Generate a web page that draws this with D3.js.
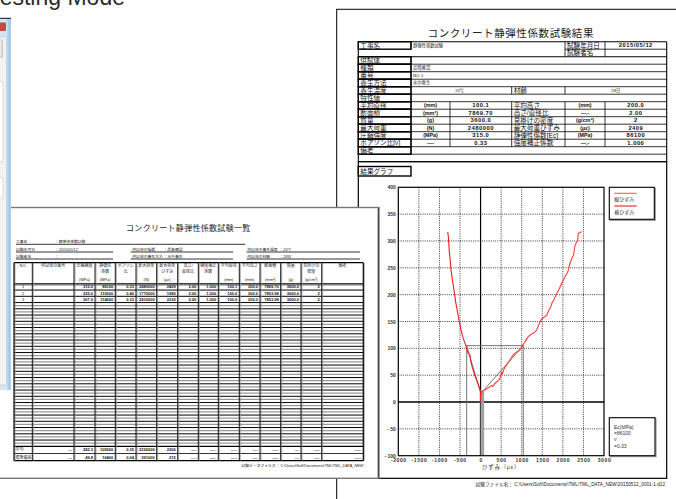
<!DOCTYPE html>
<html><head><meta charset="utf-8">
<script src="https://cdn.jsdelivr.net/npm/d3@7"></script>
<style>
html,body{margin:0;padding:0;background:#fff;overflow:hidden}
svg{display:block}
text{font-family:"Liberation Sans","Noto Sans CJK JP",sans-serif}
</style></head><body>
<svg id="c" width="676" height="499"></svg>
<script>
// ---------- chart data ----------
const xTicks=[-2000,-1500,-1000,-500,0,500,1000,1500,2000,2500,3000];
const yTicks=[-100,-50,0,50,100,150,200,250,300,350,400];
const seriesNames=["縦ひずみ","横ひずみ"];
// axial (縦) strain curve
const axialStrain=[0,0,20,90,180,270,300,340,430,470,513,530,560,640,715,690,760,820,877,930,980,1023,1060,1120,1100,1160,1242,1300,1364,1420,1485,1520,1606,1650,1700,1728,1780,1850,1880,1930,1990,2052,2100,2132,2150,2213,2254,2270,2295,2330,2360,2375,2420,2457];
const axialStress=[0,12,19,22,26,31,29,34,40,44,56,52,60,70,78,75,84,90,93,95,100,106,110,118,114,122,127,129,134,145,155,157,161,170,176,183,190,202,206,214,224,233,240,245,252,267,273,278,292,297,301,314,316,317];
// lateral (横) strain curve
const lateralStrain=[0,0,-40,-95,-150,-202,-240,-258,-290,-314,-340,-362,-390,-420,-476,-500,-525,-560,-605,-630,-663,-690,-720,-735,-760,-785,-800];
const lateralStress=[0,19,30,40,52,65,76,87,90,93,100,106,112,118,134,145,152,168,186,200,217,230,247,262,280,310,317];
// secant modulus construction
const ecMPa=86100, poissonText="0.33";
const baseStrain=50, baseStress=20, upperStress=105, lateralUpperStrain=-338;

// ---------- result sheet data ----------
const sheetTitle="コンクリート静弾性係数試験結果";
const infoLabels=["供試体","種類","番号","養生方法"];
const infoValues=["","品質確認","NO-1","水中養生"];
const statLabels=["平均直径","断面積","質量","最大荷重","圧縮強度","ポアソン比[ν]"];
const statUnits=["(mm)","(mm²)","(g)","(N)","(MPa)","----"];
const statValues=["100.1","7869.70","3600.0","2480000","315.0","0.33"];
const statLabels2=["平均高さ","高さ/直径比","見掛けの密度","最大荷重ひずみ","静弾性係数[Ec]","強度補正係数"];
const statUnits2=["(mm)","―.-","(g/cm³)","(με)","(MPa)","―.-"];
const statValues2=["200.0","2.00","2","2409","86100","1.000"];

// ---------- list sheet data ----------
const listTitle="コンクリート静弾性係数試験一覧";
const listHeader=[["NO.","",""],["供試体の番号","",""],["圧縮強度","","(MPa)"],["静弾性","係数","(MPa)"],["ポアソン","比",""],["最大荷重","","(N)"],["最大荷重","ひずみ","(με)"],["高さ/","直径比",""],["強度補正","係数",""],["平均直径","","(mm)"],["平均高さ","","(mm)"],["断面積","","(mm²)"],["質量","","(g)"],["見掛けの","密度","(g/cm³)"],["備考","",""]];
const listRow1=["1","","315.0","86100","0.33","2480000","2409","2.00","1.000","100.1","200.0","7869.70","3600.0","2",""];
const listRow2=["2","","225.0","115000","0.40","1770000","1980","2.00","1.000","100.0","200.0","7853.98","3600.0","2",""];
const listRow3=["3","","307.0","114000","0.33","2410000","2230","2.00","1.000","100.0","200.0","7853.98","3600.0","2",""];
const listMean=["平均","---","282.3","105000","0.35","2220000","2206","----","―.-","―.-","----","―.-","---","----","―.-"];
const listStd=["標準偏差","---","49.8","16400","0.04","391000","215","----","―.-","―.-","----","―.-","---","----","―.-"];

const svg=d3.select("#c");
function T(sel,x,y,s,o={}){
  return sel.append("text").attr("x",x).attr("y",y).attr("dy","0.35em")
    .attr("font-size",o.size||6).attr("text-anchor",o.anchor||"start")
    .attr("fill",o.fill||"#111").attr("font-weight",o.weight||"normal")
    .attr("letter-spacing",o.ls||0).attr("font-family",o.family||null).text(s);
}
function L(sel,x1,y1,x2,y2,w,col,dash){
  return sel.append("line").attr("x1",x1).attr("y1",y1).attr("x2",x2).attr("y2",y2)
    .attr("stroke",col||"#000").attr("stroke-width",w||0.8).attr("stroke-dasharray",dash||null);
}
function R(sel,x0,y0,x1,y1,w,col,fill){
  return sel.append("rect").attr("x",x0).attr("y",y0).attr("width",x1-x0).attr("height",y1-y0)
    .attr("fill",fill||"none").attr("stroke",col||"#000").attr("stroke-width",w||0.8);
}

// ---------- heading ----------
svg.append("text").attr("x",125).attr("y",4.5).attr("text-anchor","end")
  .attr("font-family","'Open Sans',sans-serif").attr("font-size",23).attr("fill","#2b2b2b").text("Testing Mode");

// ---------- result sheet ----------
const right=svg.append("g");
R(right,336.7,9.3,700,520,1,"#000","#fff");
T(right,510.8,33.3,sheetTitle,{size:10.5,anchor:"middle",fill:"#222",ls:0.6,family:"'Noto Sans CJK JP',sans-serif"});

const c=[358.3,411,450,511.7,565,605,666.7];
const ry=i=>41.7+i*7.5;
const lab={size:6.6,fill:"#111"};
const small={size:4.3,fill:"#222"};
const num={size:5.8,weight:"bold",fill:"#111",ls:0.5};
// rows 0-1
L(right,c[0],ry(0),c[6],ry(0),1.1);
L(right,c[4],ry(1),c[6],ry(1),0.8);
L(right,c[0],ry(2),c[6],ry(2),1.1);
L(right,c[0],ry(0),c[0],ry(2),1.1);
[c[4],c[5]].forEach(xx=>L(right,xx,ry(0),xx,ry(2),0.8));
L(right,c[1],ry(0),c[1],ry(1),0.8);
L(right,c[6],ry(0),c[6],ry(16),1.1);
R(right,c[0],ry(0),c[1],ry(1),1.4);
T(right,c[0]+2,ry(0)+3.75,"工事名",lab);
T(right,c[1]+2,ry(0)+3.75,"静弾性係数試験",small);
T(right,c[4]+2,ry(0)+3.75,"試験年月日",lab);
T(right,(c[5]+c[6])/2,ry(0)+3.75,"2015/05/12",Object.assign({},num,{anchor:"middle"}));
T(right,c[4]+2,ry(1)+3.75,"試験者名",lab);
// rows 2..15 horizontal rules
for(let i=3;i<=16;i++) L(right,c[0],ry(i),c[6],ry(i),0.8);
L(right,c[0],ry(2),c[0],ry(16),1.1);
L(right,c[1],ry(2),c[1],ry(15),0.8);
// info rows
infoLabels.forEach((t,k)=>{
  const i=2+k;
  R(right,c[0],ry(i),c[1],ry(i+1),1.4);
  T(right,c[0]+2,ry(i)+3.75,t,lab);
  T(right,c[1]+2,ry(i)+3.75,infoValues[k],small);
});
// curing temperature / age row
R(right,c[0],ry(6),c[1],ry(7),1.4);
T(right,c[0]+2,ry(6)+3.75,"養生温度",lab);
L(right,c[3],ry(6),c[3],ry(7),0.8);L(right,c[4],ry(6),c[4],ry(7),0.8);
T(right,(c[1]+c[3])/2-6,ry(6)+3.75,"20℃",small);
T(right,c[3]+2,ry(6)+3.75,"材齢",lab);
T(right,(c[4]+c[6])/2,ry(6)+3.75,"28日",Object.assign({},small,{anchor:"middle"}));
R(right,c[0],ry(7),c[1],ry(8),1.4);
T(right,c[0]+2,ry(7)+3.75,"特性値",lab);
// property rows
statLabels.forEach((t,k)=>{
  const i=8+k;
  R(right,c[0],ry(i),c[1],ry(i+1),1.4);
  [c[2],c[3],c[4],c[5]].forEach(xx=>L(right,xx,ry(i),xx,ry(i+1),0.8));
  T(right,c[0]+2,ry(i)+3.75,t,lab);
  T(right,(c[1]+c[2])/2,ry(i)+3.75,statUnits[k],{size:5.4,anchor:"middle",fill:"#111",weight:"bold"});
  T(right,(c[2]+c[3])/2,ry(i)+3.75,statValues[k],Object.assign({},num,{anchor:"middle"}));
  T(right,c[3]+2,ry(i)+3.75,statLabels2[k],lab);
  T(right,(c[4]+c[5])/2,ry(i)+3.75,statUnits2[k],{size:5.4,anchor:"middle",fill:"#111",weight:"bold"});
  T(right,(c[5]+c[6])/2,ry(i)+3.75,statValues2[k],Object.assign({},num,{anchor:"middle"}));
});
R(right,c[0],ry(14),c[1],ry(15),1.4);
T(right,c[0]+2,ry(14)+3.75,"備考",lab);

// graph section frame
R(right,c[0],ry(16),c[6],478.3,1.2);
R(right,c[0],166.5,c[1],176,1.4);
T(right,c[0]+2,171.3,"結果グラフ",lab);
T(right,665,484,"試験ファイル名： C:\\Users\\Soft\\Documents\\TML\\TML_DATA_NEW\\20150512_0001-1.d12",{size:4.7,anchor:"end",fill:"#222"});

// ---------- stress–strain chart ----------
const x=d3.scaleLinear().domain([-2000,3000]).range([398.3,604]);
const y=d3.scaleLinear().domain([-100,400]).range([455.7,187.3]);
const plot=right.append("g");
plot.selectAll("line.gx").data(xTicks.filter(d=>d!==0&&d!==-2000&&d!==3000)).join("line")
  .attr("class","gx").attr("x1",d=>x(d)).attr("x2",d=>x(d)).attr("y1",y(400)).attr("y2",y(-100))
  .attr("stroke","#222").attr("stroke-width",0.9).attr("stroke-dasharray","1,1.2");
plot.selectAll("line.gy").data(yTicks.filter(d=>d!==0&&d!==-100&&d!==400)).join("line")
  .attr("class","gy").attr("y1",d=>y(d)).attr("y2",d=>y(d)).attr("x1",x(-2000)).attr("x2",x(3000))
  .attr("stroke","#222").attr("stroke-width",0.9).attr("stroke-dasharray","1,1.2");
L(plot,x(0),y(400),x(0),y(-100),1.2,"#000");
L(plot,x(-2000),y(0),x(3000),y(0),1.3,"#000");

// secant-modulus construction lines
const axialUpperStrain=baseStrain+(upperStress-baseStress)/ecMPa*1e6;
const gline=d3.line().x(d=>x(d[0])).y(d=>y(d[1]));
plot.append("path").attr("d",gline([[baseStrain,baseStress],[baseStrain,-100]])).attr("stroke","#a0a0a0").attr("stroke-width",3).attr("fill","none");
plot.append("path").attr("d",gline([[-10,baseStress],[-10,-100]])).attr("stroke","#888").attr("stroke-width",0.8).attr("fill","none");
plot.append("path").attr("d",gline([[lateralUpperStrain,-100],[lateralUpperStrain,upperStress],[axialUpperStrain,upperStress],[axialUpperStrain,-100]])).attr("stroke","#666").attr("stroke-width",0.9).attr("fill","none");
plot.append("path").attr("d",gline([[baseStrain,baseStress],[axialUpperStrain,upperStress]])).attr("stroke","#777").attr("stroke-width",1).attr("fill","none");
plot.append("path").attr("d",gline([[-10,baseStress],[lateralUpperStrain,upperStress]])).attr("stroke","#777").attr("stroke-width",1).attr("fill","none");

const curve=d3.line().x(d=>x(d[0])).y(d=>y(d[1]));
plot.append("path").attr("d",curve(axialStrain.map((s,i)=>[s,axialStress[i]])))
  .attr("fill","none").attr("stroke","#ff3b3b").attr("stroke-width",1.1).attr("stroke-linejoin","round");
plot.append("path").attr("d",curve(lateralStrain.map((s,i)=>[s,lateralStress[i]])))
  .attr("fill","none").attr("stroke","#f01c1c").attr("stroke-width",1.1).attr("stroke-linejoin","round");

R(plot,x(-2000),y(400),x(3000),y(-100),1.2,"#000");

const ay=plot.append("g").attr("transform",`translate(${x(-2000)},0)`)
  .call(d3.axisLeft(y).tickValues(yTicks).tickSize(0).tickPadding(2.5).tickFormat(d=>d<0?"- "+(-d):d));
ay.select(".domain").remove();
ay.selectAll("text").attr("font-size",5).attr("font-family","'Liberation Sans',sans-serif").attr("font-weight","bold").attr("fill","#333");
const ax=plot.append("g").attr("transform",`translate(0,${y(-100)})`)
  .call(d3.axisBottom(x).tickValues(xTicks).tickSize(0).tickPadding(3).tickFormat(d=>d));
ax.select(".domain").remove();
ax.selectAll("text").attr("font-size",5).attr("font-family","'Liberation Sans',sans-serif").attr("font-weight","bold").attr("fill","#333").attr("letter-spacing",0.6);
T(plot,(x(-2000)+x(3000))/2,467.3,"ひずみ（με）",{size:5.4,anchor:"middle",fill:"#333",ls:0.8});

// legend
R(plot,610.3,188.3,655.3,220.3,1,"#888");
R(plot,609.3,187.3,654.3,219.3,1.1,"#000","#fff");
const legColors=["#ff5a5a","#f01c1c"];
seriesNames.forEach((n,i)=>{
  L(plot,614.3,193.3+i*12.7,636.7,193.3+i*12.7,1.1,legColors[i]);
  T(plot,614.3,199.3+i*13,n,{size:5,fill:"#333"});
});
// modulus box
R(plot,610.3,418.7,656,456.7,1,"#888");
R(plot,609.3,417.7,655,455.7,1.1,"#000","#fff");
["Ec(MPa)","="+ecMPa,"ν","="+poissonText].forEach((t,i)=>T(plot,614,427.3+i*6.2,t,{size:5,fill:"#333"}));

// ---------- list sheet ----------
const left=svg.append("g");
R(left,-5,207.5,379,478.3,1.4,"#777","#fff");
L(left,378.2,208,378.2,478,0.8,"#000");
T(left,188.3,228.3,listTitle,{size:8,anchor:"middle",fill:"#222",ls:0.3,family:"'Noto Sans CJK JP',sans-serif"});
const hs={size:3.8,fill:"#222"};
T(left,16,241.8,"工事名",hs);T(left,55,241.8,"：静弾性係数試験",hs);
L(left,16,244.3,245,244.3,0.8);
T(left,16,249.6,"試験年月日",hs);T(left,55,249.6,"：2015/05/12",hs);
T(left,132.3,249.6,"供試体の種類",hs);T(left,163.5,249.6,"：品質確認",hs);
T(left,247.3,249.6,"供試体の養生温度",hs);T(left,279.5,249.6,"：20℃",hs);
T(left,16,256.5,"試験者名",hs);T(left,55,256.5,"：",hs);
T(left,132.3,256.5,"供試体の養生方法",hs);T(left,163.5,256.5,"：水中養生",hs);
T(left,247.3,256.5,"供試体の材齢",hs);T(left,279.5,256.5,"：28日",hs);
[252,259].forEach(yy=>{L(left,16,yy,113,yy,0.8);L(left,130.7,yy,233,yy,0.8);L(left,246.7,yy,360,yy,0.8);});

const lc=[14,32.3,74,95,115.3,136,156.7,177.7,198.3,218.3,239.3,260,280.7,301,321.7,363.3];
const lTop=262.7,lHead=283.8,lRowH=6.25,lRows=26,lBot=460.7;
const lRowY=i=>lHead+i*lRowH;
const sumY=lRowY(lRows);
for(let i=3;i<lRows;i++) L(left,lc[0],lRowY(i)+3.1,lc[15],lRowY(i)+3.1,1.3,"#9a9a9a");
for(let i=1;i<lRows;i++) L(left,lc[0],lRowY(i),lc[15],lRowY(i),1,"#000");
L(left,lc[0],lTop,lc[15],lTop,1.2);
L(left,lc[0],lHead,lc[15],lHead,1.3);L(left,lc[0],lHead+1.4,lc[15],lHead+1.4,0.7,"#777");
L(left,lc[0],sumY,lc[15],sumY,1.2);L(left,lc[0],453.5,lc[15],453.5,0.8);L(left,lc[0],lBot,lc[15],lBot,1.3);
lc.forEach((xx,k)=>{L(left,xx+1,lTop,xx+1,lBot,0.8,"#999");L(left,xx,lTop,xx,lBot,(k===0||k===15)?1.2:0.9,"#000");});
listHeader.forEach((h,k)=>{
  const cx=(lc[k]+lc[k+1])/2;
  [266,271.7,280].forEach((yy,j)=>{if(h[j])T(left,cx,yy,h[j],{size:4,anchor:"middle",fill:"#222"});});
});
[listRow1,listRow2,listRow3].forEach((row,i)=>{
  row.forEach((v,k)=>{
    if(!v) return;
    if(k===0) T(left,(lc[0]+lc[1])/2,lRowY(i)+3.1,v,{size:4,anchor:"middle",fill:"#111"});
    else T(left,lc[k+1]-2,lRowY(i)+3.1,v,{size:4,anchor:"end",fill:"#111",weight:"bold"});
  });
});
[listMean,listStd].forEach((row,i)=>{
  const yy=i===0?450:457.1;
  row.forEach((v,k)=>{
    if(k===0) T(left,lc[0]+1.5,yy,v,{size:4,fill:"#222"});
    else T(left,lc[k+1]-2,yy,v,{size:4,anchor:"end",fill:"#111",weight:"bold"});
  });
});
T(left,363.3,465.2,"試験データフォルダ： C:\\Users\\Soft\\Documents\\TML\\TML_DATA_NEW",{size:3.8,anchor:"end",fill:"#222"});

// ---------- application window edge ----------
const win=svg.append("g");
win.append("rect").attr("x",-2).attr("y",18).attr("width",13).attr("height",372).attr("fill","#d3e4f4");
win.append("rect").attr("x",7.5).attr("y",18).attr("width",3.5).attr("height",372).attr("fill","#a8ccec");
win.append("rect").attr("x",-2).attr("y",37).attr("width",8.5).attr("height",348).attr("fill","#f3f3f3").attr("stroke","#c4c4c4").attr("stroke-width",0.6);
win.append("rect").attr("x",-2).attr("y",40).attr("width",4.5).attr("height",17).attr("fill","#e6e6e6").attr("stroke","#b0b0b0").attr("stroke-width",0.6);
win.append("rect").attr("x",-2).attr("y",82).attr("width",5).attr("height",80).attr("fill","#fff").attr("stroke","#c8c8c8").attr("stroke-width",0.6);
win.append("rect").attr("x",-2).attr("y",178).attr("width",5).attr("height",20).attr("fill","#fff").attr("stroke","#c8c8c8").attr("stroke-width",0.6);
win.append("rect").attr("x",-1).attr("y",22.5).attr("width",7).attr("height",8.5).attr("rx",1).attr("fill","#c8473c");
L(win,0,18.3,11,18.3,1,"#111");
</script>
</body></html>
